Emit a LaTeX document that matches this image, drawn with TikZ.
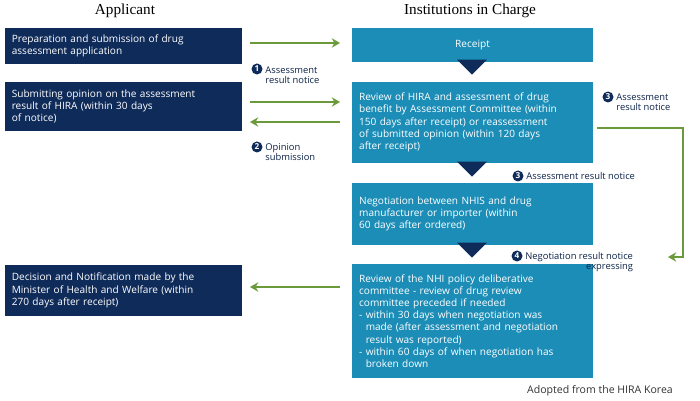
\documentclass[tikz,border=0pt]{standalone}
\usepackage{fontspec}
\setmainfont{Open Sans}
\newfontfamily\headfont{Liberation Serif}
\usetikzlibrary{arrows.meta, shapes.geometric}
\definecolor{navy}{HTML}{0F2B59}
\definecolor{teal}{HTML}{1B8DB7}
\definecolor{leaf}{HTML}{6A9A3A}
\tikzset{
  appbox/.style = {rectangle, fill=navy, text=white, inner xsep=6pt, align=left, minimum width=7.11cm, text width=6.7cm, font=\fontsize{8.6}{10.4}\selectfont},
  instbox/.style = {rectangle, fill=teal, text=white, inner xsep=6pt, align=left, minimum width=7.23cm, text width=6.8cm, font=\fontsize{8.6}{10.4}\selectfont},
  tri/.style = {isosceles triangle, shape border rotate=-90, fill=navy, isosceles triangle apex angle=90, minimum width=0.9cm, minimum height=0.3cm, inner sep=0pt},
  arrow/.style = {draw=leaf, line width=1.3pt, -{Stealth[length=7pt,width=8pt]}},
  num/.style = {circle, fill=navy, text=white, inner sep=0pt, minimum size=0.33cm, font=\fontsize{7}{7}\selectfont\bfseries},
  note/.style = {align=left, text=navy!80!black, font=\fontsize{8}{9}\selectfont, anchor=west, inner sep=1pt}
}
\begin{document}
\begin{tikzpicture}[x=0.03cm, y=-0.03cm]
\useasboundingbox (0,0) rectangle (700,401);
% headers
\node (hl) [font=\headfont\fontsize{13}{13}\selectfont] at (125,11) {Applicant};
\node (hr) [font=\headfont\fontsize{13}{13}\selectfont] at (470,11) {Institutions in Charge};
% ---------------------------------------------
% Applicant column
% ---------------------------------------------
\node (l1) [appbox, minimum height=1.08cm] at (123.5,46) {Preparation and submission of drug\\assessment application};
\node (l2) [appbox, minimum height=1.47cm] at (123.5,106.5) {Submitting opinion on the assessment\\result of HIRA (within 30 days\\of notice)};
\node (l3) [appbox, minimum height=1.53cm] at (123.5,290.5) {Decision and Notification made by the\\Minister of Health and Welfare (within\\270 days after receipt)};
% ---------------------------------------------
% Institutions column
% ---------------------------------------------
\node (r1) [instbox, minimum height=1.02cm, align=center] at (472.5,45) {Receipt};
\node (r2) [instbox, minimum height=2.43cm] at (472.5,122.5) {Review of HIRA and assessment of drug\\benefit by Assessment Committee (within\\150 days after receipt) or reassessment\\of submitted opinion (within 120 days\\after receipt)};
\node (r3) [instbox, minimum height=1.86cm] at (472.5,214) {Negotiation between NHIS and drug\\manufacturer or importer (within\\60 days after ordered)};
\node (r4) [instbox, minimum height=3.42cm] at (472.5,321) {Review of the NHI policy deliberative\\committee - review of drug review\\committee preceded if needed\\- within 30 days when negotiation was\\\hphantom{- }made (after assessment and negotiation\\\hphantom{- }result was reported)\\- within 60 days of when negotiation has\\\hphantom{- }broken down};
\node (t1) [tri, anchor=apex] at (472,75) {};
\node (t2) [tri, anchor=apex] at (472,177) {};
\node (t3) [tri, anchor=apex] at (472,258) {};
% ---------------------------------------------
% Arrows
% ---------------------------------------------
\coordinate (a1) at (250,43);
\coordinate (b1) at (340,43);
\draw [arrow] (a1) -- (b1);
\coordinate (a2) at (250,102);
\coordinate (b2) at (340,102);
\draw [arrow] (a2) -- (b2);
\coordinate (a3) at (340,122);
\coordinate (b3) at (250,122);
\draw [arrow] (a3) -- (b3);
\coordinate (a4) at (340,287);
\coordinate (b4) at (250,287);
\draw [arrow] (a4) -- (b4);
\coordinate (c1) at (597,128);
\coordinate (c2) at (683,128);
\coordinate (c3) at (683,257);
\coordinate (c4) at (668,257);
\draw [arrow] (c1) -- (c2) -- (c3) -- (c4);
% ---------------------------------------------
% Notes
% ---------------------------------------------
\node (n1) [num] at (257,69) {1};
\node (n1t) [note] at (264,75) {Assessment\\result notice};
\node (n2) [num] at (257,147) {2};
\node (n2t) [note] at (264,152) {Opinion\\submission};
\node (n3) [num] at (608,97) {3};
\node (n3t) [note] at (615,102) {Assessment\\result notice};
\node (n4) [num] at (518,176) {3};
\node (n4t) [note] at (525,176) {Assessment result notice};
\node (n5) [num] at (517,256) {4};
\node (n5t) [note, align=right] at (524,262) {Negotiation result notice\\expressing};
\node (src) [font=\fontsize{9}{9}\selectfont, text=black!80] at (600,391) {Adopted from the HIRA Korea};
\end{tikzpicture}
\end{document}
